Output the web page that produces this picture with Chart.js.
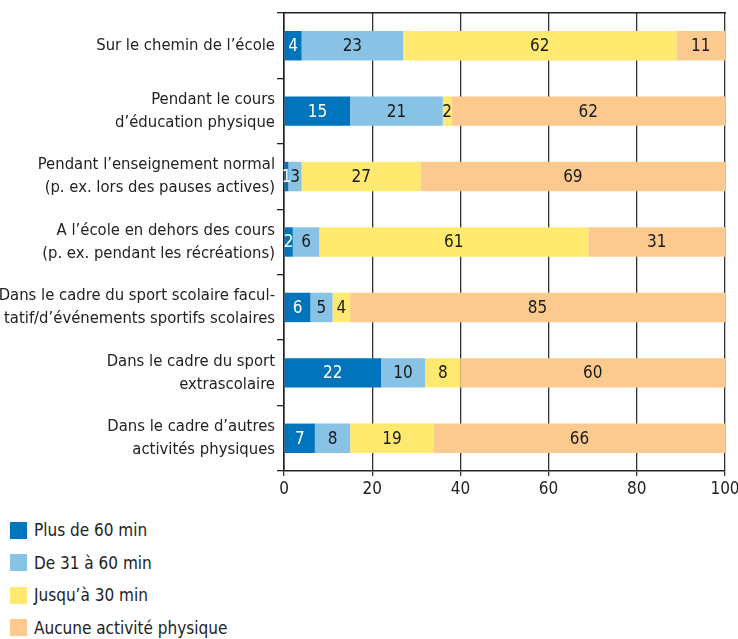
<!DOCTYPE html>
<html>
<head>
<meta charset="utf-8">
<script src="https://cdn.jsdelivr.net/npm/chart.js@4"></script>
<style>
  body { margin: 0; background: #fff; }
  #wrap { position: relative; width: 738px; height: 639px; }
  #chartBox { position: absolute; left: 0; top: 0; width: 738px; height: 510px; }
  #legend { position: absolute; left: 10px; top: 514px; font-family: "DejaVu Sans Condensed", "Liberation Sans Narrow", sans-serif; font-size: 17px; color: #222; }
  #legend div { height: 32.5px; display: flex; align-items: center; }
  #legend span.box { display: inline-block; width: 17px; height: 17px; margin-right: 7px; }
</style>
</head>
<body>
<div id="wrap">
  <div id="chartBox"><canvas id="chart"></canvas></div>
  <div id="legend"></div>
</div>
<script>
// categories (one per row, top to bottom)
const categories = [
  ['Sur le chemin de l’école'],
  ['Pendant le cours', 'd’éducation physique'],
  ['Pendant l’enseignement normal', '(p. ex. lors des pauses actives)'],
  ['A l’école en dehors des cours', '(p. ex. pendant les récréations)'],
  ['Dans le cadre du sport scolaire facul-', 'tatif/d’événements sportifs scolaires'],
  ['Dans le cadre du sport', 'extrascolaire'],
  ['Dans le cadre d’autres', 'activités physiques']
];

// series values, in %
const plus60 = [4, 15, 1, 2, 6, 22, 7];
const de31a60 = [23, 21, 3, 6, 5, 10, 8];
const jusqua30 = [62, 2, 27, 61, 4, 8, 19];
const aucune = [11, 62, 69, 31, 85, 60, 66];

const seriesNames = ['Plus de 60 min', 'De 31 à 60 min', 'Jusqu’à 30 min', 'Aucune activité physique'];
const seriesColors = ['#0075be', '#88c3e5', '#ffe96e', '#fcca8e'];
const labelColors = ['#ffffff', '#1a1a1a', '#1a1a1a', '#1a1a1a'];

// x axis ticks
const xTicks = [0, 20, 40, 60, 80, 100];

const fontFamily = '"DejaVu Sans Condensed", "Liberation Sans Narrow", sans-serif';

// writes the value in the middle of each bar piece
const barValues = {
  id: 'barValues',
  afterDatasetsDraw(chart) {
    let ctx = chart.ctx;
    ctx.save();
    ctx.font = '17px ' + fontFamily;
    ctx.textAlign = 'center';
    ctx.textBaseline = 'middle';
    chart.data.datasets.forEach((ds, i) => {
      let meta = chart.getDatasetMeta(i);
      meta.data.forEach((bar, j) => {
        ctx.fillStyle = labelColors[i];
        let cx = (bar.x + bar.base) / 2;
        ctx.fillText(String(ds.data[j]), cx, bar.y + 1);
      });
    });
    ctx.restore();
  }
};

const allSeries = [plus60, de31a60, jusqua30, aucune];
let datasets = allSeries.map((values, i) => ({
  label: seriesNames[i],
  data: values,
  backgroundColor: seriesColors[i],
  borderWidth: 0,
  categoryPercentage: 0.9,
  barPercentage: 0.5
}));

new Chart(document.getElementById('chart'), {
  type: 'bar',
  data: { labels: categories, datasets: datasets },
  plugins: [barValues],
  options: {
    indexAxis: 'y',
    responsive: true,
    maintainAspectRatio: false,
    animation: false,
    layout: { padding: { top: 0, right: 0, left: 0, bottom: 0 } },
    plugins: {
      legend: { display: false },
      tooltip: { enabled: false }
    },
    scales: {
      x: {
        stacked: true,
        min: 0,
        max: 100,
        afterBuildTicks(axis) { axis.ticks = xTicks.map(v => ({ value: v })); },
        afterFit(axis) { axis.height = 39; axis.paddingRight = 13; },
        grid: { color: '#333', lineWidth: 1.3, tickLength: 5, drawOnChartArea: true },
        border: { color: '#222', width: 1.6 },
        ticks: { color: '#222', font: { family: fontFamily, size: 17 }, padding: 3, maxRotation: 0 }
      },
      xTop: {
        position: 'top',
        min: 0,
        max: 100,
        afterFit(axis) { axis.height = 13; axis.paddingRight = 13; },
        grid: { display: false },
        ticks: { display: false },
        border: { display: true, color: '#222', width: 1.6 }
      },
      y: {
        stacked: true,
        afterFit(axis) { axis.width = 284; axis.paddingTop = 0; axis.paddingBottom = 0; },
        grid: { offset: true, drawOnChartArea: false, tickLength: 7, color: '#222', lineWidth: 1.3 },
        border: { color: '#222', width: 1.6 },
        ticks: { color: '#222', font: { family: fontFamily, size: 16.5, lineHeight: 1.38 }, padding: 2 }
      }
    }
  }
});

// legend, listed under the chart
let legend = document.getElementById('legend');
seriesNames.forEach((name, i) => {
  let row = document.createElement('div');
  let box = document.createElement('span');
  box.className = 'box';
  box.style.background = seriesColors[i];
  row.appendChild(box);
  row.appendChild(document.createTextNode(name));
  legend.appendChild(row);
});
</script>
</body>
</html>
